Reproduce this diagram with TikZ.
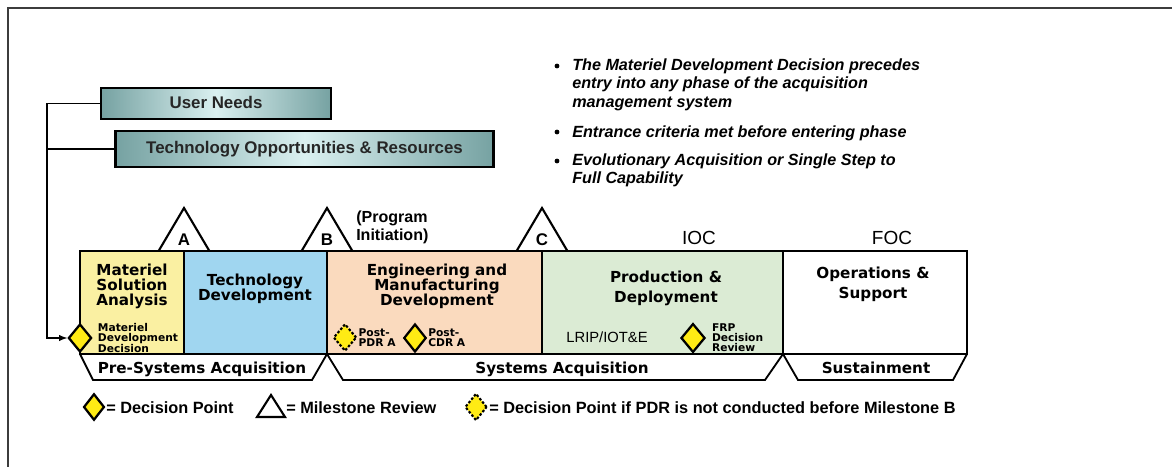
\documentclass[tikz,border=0pt]{standalone}
\usepackage{fontspec}
\setmainfont{Liberation Sans}
\newfontfamily\verdana{DejaVu Sans}
\usetikzlibrary{shapes.geometric,positioning}
\definecolor{msacol}{RGB}{250,240,162}
\definecolor{tdcol}{RGB}{160,214,240}
\definecolor{emdcol}{RGB}{250,218,190}
\definecolor{pdcol}{RGB}{219,235,212}
\definecolor{dpyellow}{RGB}{255,235,20}
\definecolor{tealdark}{RGB}{118,162,162}
\definecolor{teallight}{RGB}{218,240,240}
\definecolor{framegray}{RGB}{60,60,60}

\begin{document}
\begin{tikzpicture}[x=0.025cm, y=-0.025cm,
 srcbox/.style={draw, line width=1.8pt, left color=tealdark, right color=tealdark, middle color=teallight, font=\bfseries\fontsize{12}{14}\selectfont, text=black!85, text height=1.6ex, text depth=.3ex},
 phase/.style={font=\verdana\bfseries\fontsize{10.8}{10.7}\selectfont, align=center, inner sep=0pt, anchor=north},
 phasewide/.style={phase, font=\verdana\bfseries\fontsize{10.8}{14.2}\selectfont},
 band/.style={font=\verdana\bfseries\fontsize{10.8}{12}\selectfont, inner sep=0pt, anchor=base},
 tiny/.style={font=\verdana\bfseries\fontsize{7.6}{7.1}\selectfont, align=left, inner sep=0pt},
 dpoint/.style={diamond, draw, fill=dpyellow, line width=1.6pt, inner sep=0pt, minimum width=0.56cm, minimum height=0.7cm},
 dotdp/.style={dpoint, line width=1.5pt, dash pattern=on 1.8pt off 1.3pt},
 mstone/.style={draw, fill=white, line width=1.5pt},
 mletter/.style={font=\bfseries\fontsize{12}{14}\selectfont, inner sep=0pt, anchor=base},
 capstate/.style={font=\fontsize{13.5}{15}\selectfont, inner sep=0pt, anchor=base},
 legend/.style={font=\bfseries\fontsize{11.6}{14}\selectfont, inner sep=0pt, anchor=base west},
 note/.style={font=\bfseries\itshape\fontsize{11.5}{13.5}\selectfont, align=left, inner sep=0pt, anchor=north west},
 dot/.style={circle, fill, inner sep=0pt, minimum size=3.4pt}]
\useasboundingbox (0,0) rectangle (1172,467);
\draw[framegray, line width=1.8pt] (8,467) -- (8,8) -- (1172,8);

\node[srcbox, minimum width=5.75cm, minimum height=0.78cm] (needs) at (216,103.5) {User Needs};
\node[srcbox, minimum width=9.45cm, minimum height=0.9cm] (techopp) at (304.5,149) {Technology Opportunities \& Resources};

\node[dot] (dot1) at (557,66) {};
\node[note] (note1) at (572,58) {The Materiel Development Decision precedes\\entry into any phase of the acquisition\\management system};
\node[dot] (dot2) at (557,132) {};
\node[note] (note2) at (572,125) {Entrance criteria met before entering phase};
\node[dot] (dot3) at (557,161) {};
\node[note] (note3) at (572,153) {Evolutionary Acquisition or Single Step to\\Full Capability};

\foreach \mx/\ml in {184/A, 327/B, 542/C}{
  \draw[mstone] (\mx-26,252) -- (\mx,208) -- (\mx+26,252);
  \node[mletter] (ms\ml) at (\mx,245) {\ml};
}
\node[font=\bfseries\fontsize{11.4}{12.8}\selectfont, align=left, inner sep=0pt, anchor=north west] (proginit) at (356,211) {(Program\\Initiation)};
\node[capstate] (ioc) at (699,244) {IOC};
\node[capstate] (foc) at (892,244) {FOC};

\fill[msacol] (80,251) rectangle (184,354);
\fill[tdcol] (184,251) rectangle (327,354);
\fill[emdcol] (327,251) rectangle (542,354);
\fill[pdcol] (542,251) rectangle (783,354);
\draw[line width=1.8pt] (80,251) rectangle (967,354);
\foreach \dx in {184,327,542,783} \draw[line width=1.6pt] (\dx,251) -- (\dx,354);

\draw[line width=1.3pt] (80,354) -- (93,380) -- (312,380) -- (327,354);
\draw[line width=1.3pt] (327,354) -- (343,380) -- (765,380) -- (783,354);
\draw[line width=1.3pt] (783,354) -- (798,380) -- (953,380) -- (967,354);
\node[band] (presys) at (202,373) {Pre-Systems Acquisition};
\node[band] (sysacq) at (562,373) {Systems Acquisition};
\node[band] (sustain) at (876,373) {Sustainment};

\node[phase] (msa) at (132,264) {Materiel\\Solution\\Analysis};
\node[phase] (techdev) at (255,274) {Technology\\Development};
\node[phase] (emd) at (437,264) {Engineering and\\Manufacturing\\Development};
\node[phasewide] (proddep) at (666,271) {Production \&\\Deployment};
\node[phasewide] (opsup) at (873,267) {Operations \&\\Support};

\node[dpoint, minimum width=0.58cm] (mdd) at (80,338) {};
\node[tiny, right=3.5pt of mdd] (mddlabel) {Materiel\\Development\\Decision};
\node[dotdp, minimum width=0.58cm, minimum height=0.68cm] (pdr) at (345,337.5) {};
\node[tiny, right=0.5pt of pdr] (pdrlabel) {Post-\\PDR A};
\node[dpoint] (cdr) at (415,338) {};
\node[tiny, right=0.5pt of cdr] (cdrlabel) {Post-\\CDR A};
\node[font=\fontsize{10.5}{12}\selectfont, inner sep=0pt, anchor=base] (lrip) at (607,342) {LRIP/IOT\&E};
\node[dpoint, minimum width=0.6cm, minimum height=0.72cm] (frp) at (693,338) {};
\node[tiny, right=4pt of frp] (frplabel) {FRP\\Decision\\Review};

\coordinate (bus) at (47,200);
\draw[-latex, line width=1pt] (needs.west) -- (needs.west -| bus) |- (mdd.west);
\draw[line width=1pt] (techopp.west) -- (techopp.west -| bus);

\node[dpoint, minimum width=0.52cm, minimum height=0.66cm] (legdp) at (94,407) {};
\node[legend] (legdptext) at (106,413) {= Decision Point};
\draw[mstone] (257,417) -- (271,395) -- (285,417) -- cycle;
\node[legend] (legmstext) at (286,413) {= Milestone Review};
\node[dotdp, minimum width=0.55cm, minimum height=0.68cm] (legdot) at (476,407) {};
\node[legend] (legdottext) at (489,413) {= Decision Point if PDR is not conducted before Milestone B};
\end{tikzpicture}
\end{document}
